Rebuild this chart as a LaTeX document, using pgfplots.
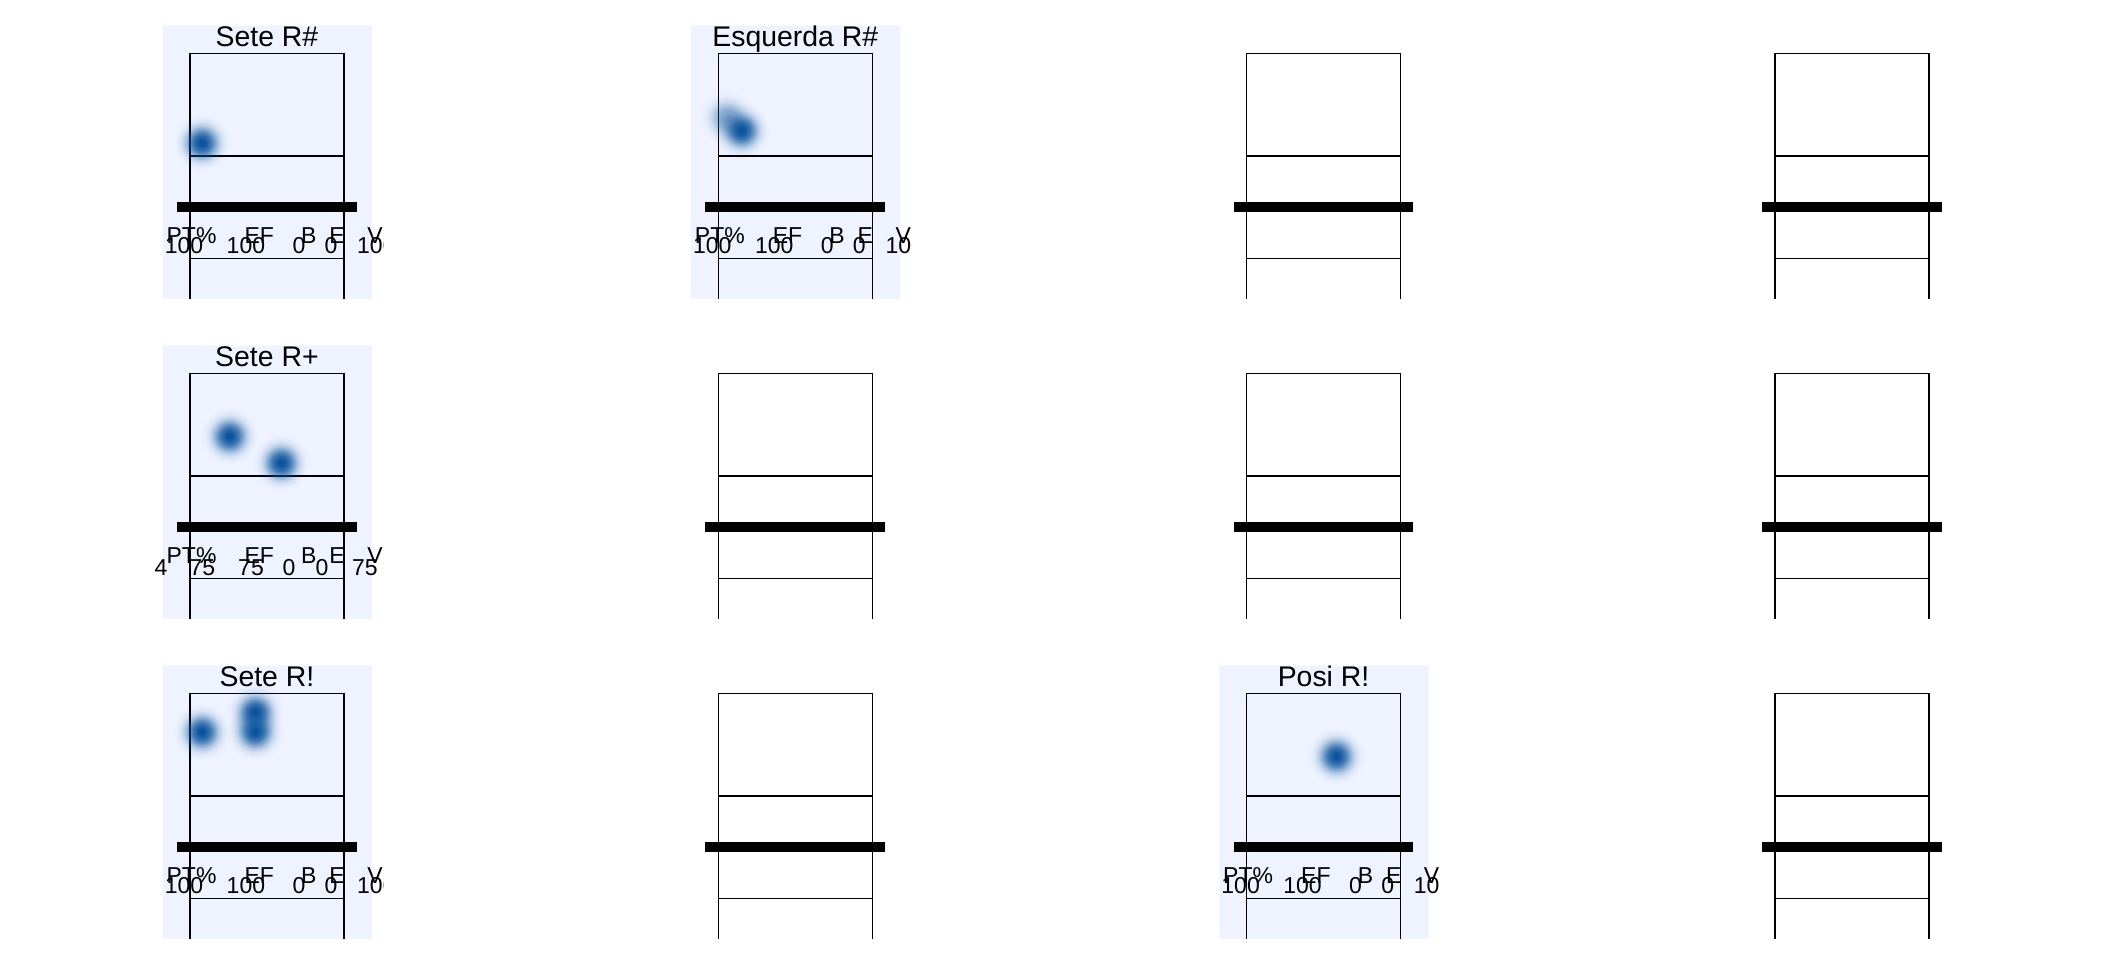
\documentclass[border=0pt]{standalone}
\usepackage{pgfplots}
\pgfplotsset{compat=1.18}
\usepackage{fontspec}
\setmainfont{Liberation Sans}
\usetikzlibrary{fadings}
\definecolor{bgblue}{HTML}{EFF3FF}
\definecolor{blobblue}{HTML}{08519C}
\pgfdeclareradialshading{blobfadeshading}{\pgfpointorigin}{color(0bp)=(pgftransparent!0); color(3bp)=(pgftransparent!5); color(7.5bp)=(pgftransparent!25); color(10.8bp)=(pgftransparent!50); color(14.2bp)=(pgftransparent!75); color(17.5bp)=(pgftransparent!90); color(20.8bp)=(pgftransparent!97); color(24.2bp)=(pgftransparent!100); color(50bp)=(pgftransparent!100)}
\pgfdeclarefading{blobfade}{\pgfuseshading{blobfadeshading}}
\pgfdeclareplotmark{blob}{%
  \pgfpathcircle{\pgfpointorigin}{15pt}%
  \pgfsetfadingforcurrentpath{blobfade}{}%
  \pgfsetfillcolor{blobblue}%
  \pgfusepath{fill}%
}
\pgfdeclareplotmark{blobl}{%
  \pgfpathcircle{\pgfpointorigin}{15pt}%
  \pgfsetfadingforcurrentpath{blobfade}{}%
  \pgfsetfillcolor{blobblue}%
  \pgfsetfillopacity{0.5}%
  \pgfusepath{fill}%
}
\pgfplotsset{
  court/.style={hide axis, clip=true, anchor=south west,
    x=8.55pt, y=8.55pt, xmin=-2.3, xmax=11.3, ymin=-5.35, ymax=10.62},
  bgfill/.style={fill=bgblue, draw=none},
}
\tikzset{
  ttl/.style={font=\fontsize{14.2}{16}\selectfont, anchor=base, inner sep=0pt},
  lbl/.style={font=\fontsize{11.5}{13}\selectfont, anchor=base, inner sep=0pt},
}
\newcommand{\court}{%
  \addplot[black, line width=0.7pt] coordinates {(0,-9) (0,9) (9,9) (9,-9)};
  \addplot[black, line width=0.7pt] coordinates {(0,3) (9,3)};
  \addplot[black, line width=0.7pt] coordinates {(0,-3) (9,-3)};
  \addplot[black, line width=5pt] coordinates {(-0.75,0) (9.75,0)};
}
\newcommand{\bgrect}{%
  \addplot[bgfill] coordinates {(-1.6,-5.35) (10.65,-5.35) (10.65,10.62) (-1.6,10.62) (-1.6,-5.35)};
}
\newcommand{\labels}{%
  \node[lbl] at (axis cs:0.09,-2.1) {PT\%};
  \node[lbl] at (axis cs:4.05,-2.1) {EF};
  \node[lbl] at (axis cs:6.95,-2.1) {B};
  \node[lbl] at (axis cs:8.6,-2.1) {E};
  \node[lbl] at (axis cs:10.82,-2.1) {V};
}
\newcommand{\statsA}{%
  \labels
  \node[lbl] at (axis cs:-0.35,-2.72) {100};
  \node[lbl] at (axis cs:3.27,-2.72) {100};
  \node[lbl] at (axis cs:6.37,-2.72) {0};
  \node[lbl] at (axis cs:8.25,-2.72) {0};
  \node[lbl] at (axis cs:10.9,-2.72) {100};
}
\newcommand{\statsB}{%
  \labels
  \node[lbl] at (axis cs:-1.7,-2.8) {4};
  \node[lbl] at (axis cs:0.73,-2.8) {75};
  \node[lbl] at (axis cs:3.57,-2.8) {75};
  \node[lbl] at (axis cs:5.79,-2.8) {0};
  \node[lbl] at (axis cs:7.72,-2.8) {0};
  \node[lbl] at (axis cs:10.23,-2.8) {75};
}
\begin{document}
\begin{tikzpicture}
\useasboundingbox (0,0) rectangle (1056pt,480pt);
% ---------- row 1 ----------
\begin{axis}[court, at={(75.33pt,330.6pt)}]
  \bgrect
  \addplot[only marks, mark=blob] coordinates {(0.68,3.78)};
  \court
  \node[ttl] at (axis cs:4.5,9.39) {Sete R\#};
  \statsA
\end{axis}
\begin{axis}[court, at={(339.48pt,330.6pt)}]
  \bgrect
  \addplot[only marks, mark=blobl] coordinates {(0.5,5.25)};
  \addplot[only marks, mark=blob] coordinates {(1.35,4.5)};
  \court
  \node[ttl] at (axis cs:4.5,9.39) {Esquerda R\#};
  \statsA
\end{axis}
\begin{axis}[court, at={(603.63pt,330.6pt)}]
  \court
\end{axis}
\begin{axis}[court, at={(867.78pt,330.6pt)}]
  \court
\end{axis}
% ---------- row 2 ----------
\begin{axis}[court, at={(75.33pt,170.6pt)}]
  \bgrect
  \addplot[only marks, mark=blob] coordinates {(2.3,5.34) (5.32,3.78)};
  \court
  \node[ttl] at (axis cs:4.5,9.39) {Sete R+};
  \statsB
\end{axis}
\begin{axis}[court, at={(339.48pt,170.6pt)}]
  \court
\end{axis}
\begin{axis}[court, at={(603.63pt,170.6pt)}]
  \court
\end{axis}
\begin{axis}[court, at={(867.78pt,170.6pt)}]
  \court
\end{axis}
% ---------- row 3 ----------
\begin{axis}[court, at={(75.33pt,10.6pt)}]
  \bgrect
  \addplot[only marks, mark=blob] coordinates {(0.68,6.76) (3.8,7.93) (3.8,6.76)};
  \court
  \node[ttl] at (axis cs:4.5,9.39) {Sete R!};
  \statsA
\end{axis}
\begin{axis}[court, at={(339.48pt,10.6pt)}]
  \court
\end{axis}
\begin{axis}[court, at={(603.63pt,10.6pt)}]
  \bgrect
  \addplot[only marks, mark=blob] coordinates {(5.23,5.34)};
  \court
  \node[ttl] at (axis cs:4.5,9.39) {Posi R!};
  \statsA
\end{axis}
\begin{axis}[court, at={(867.78pt,10.6pt)}]
  \court
\end{axis}
\end{tikzpicture}
\end{document}
